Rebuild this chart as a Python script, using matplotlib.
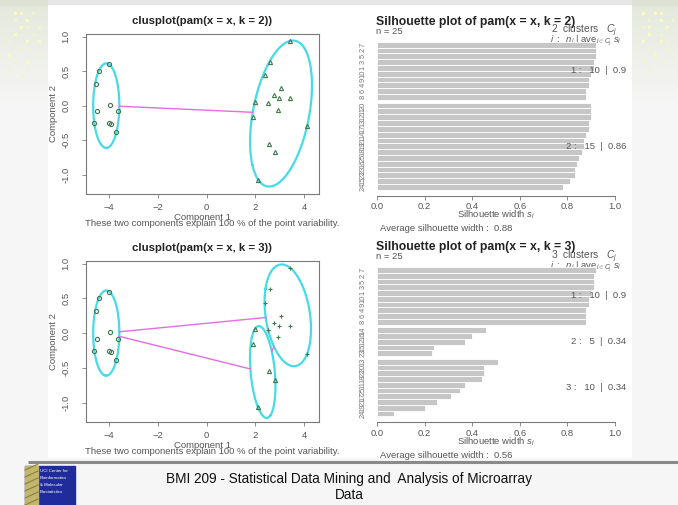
import numpy as np
import matplotlib.pyplot as plt
from matplotlib.patches import Rectangle

plt.rcParams['font.family'] = ['Liberation Sans', 'DejaVu Sans']
plt.rcParams['mathtext.fontset'] = 'custom'
plt.rcParams['mathtext.rm'] = 'Liberation Sans'
plt.rcParams['mathtext.it'] = 'Liberation Sans:italic'
plt.rcParams['mathtext.bf'] = 'Liberation Sans:bold'

W, H = 678, 505

# first two principal components of the 25 observations
pc1 = [-3.99, -4.42, -4.51, -3.97, -4.47, -3.61, -4.60, -3.99, -3.90, -3.69,
       3.43, 2.59, 2.38, 1.98, 1.92, 2.53, 2.76, 3.05, 2.97, 3.42,
       2.94, 4.12, 2.56, 2.82, 2.11]
pc2 = [0.60, 0.50, 0.32, 0.01, -0.08, -0.08, -0.25, -0.25, -0.27, -0.38,
       0.94, 0.64, 0.44, 0.06, -0.16, 0.04, 0.15, 0.25, 0.11, 0.11,
       -0.06, -0.30, -0.55, -0.67, -1.07]
clus_k2 = [1, 1, 1, 1, 1, 1, 1, 1, 1, 1,
           2, 2, 2, 2, 2, 2, 2, 2, 2, 2, 2, 2, 2, 2, 2]
clus_k3 = [1, 1, 1, 1, 1, 1, 1, 1, 1, 1,
           3, 3, 3, 2, 2, 3, 3, 3, 3, 3, 3, 3, 2, 2, 2]

# silhouette widths, sorted within cluster
sil_k2 = [0.92, 0.92, 0.92, 0.91, 0.91, 0.90, 0.89, 0.89, 0.88, 0.88,
          0.90, 0.90, 0.90, 0.89, 0.89, 0.88, 0.87, 0.87, 0.86, 0.85,
          0.84, 0.83, 0.83, 0.81, 0.78]
sil_k2_clus = [1] * 10 + [2] * 15
sil_k2_names = ['7', '2', '5', '3', '1', '10', '9', '4', '6', '8',
                '20', '11', '12', '13', '17', '14', '21', '19', '18', '25',
                '16', '23', '22', '15', '24']

sil_k3 = [0.92, 0.91, 0.91, 0.91, 0.90, 0.89, 0.89, 0.88, 0.88, 0.88,
          0.46, 0.40, 0.37, 0.24, 0.23,
          0.51, 0.45, 0.45, 0.44, 0.37, 0.35, 0.31, 0.25, 0.20, 0.07]
sil_k3_clus = [1] * 10 + [2] * 5 + [3] * 10
sil_k3_names = ['7', '2', '5', '3', '1', '10', '9', '4', '6', '8',
                '14', '16', '12', '15', '23',
                '13', '20', '22', '18', '11', '25', '17', '21', '19', '24']

footer = 'BMI 209 - Statistical Data Mining and  Analysis of Microarray'

ELL_COL = '#46dbe6'
SEG_COL = '#e26ee2'
PT_COL = '#3f7a4c'
TXT = '#555555'


def mvee(P, tol=1e-7):
    # Khachiyan's minimum volume enclosing ellipsoid
    n, d = P.shape
    Q = np.column_stack([P, np.ones(n)]).T
    u = np.full(n, 1.0 / n)
    for _ in range(50000):
        X = Q @ np.diag(u) @ Q.T
        M = np.einsum('ij,ji->i', Q.T @ np.linalg.inv(X), Q)
        j = np.argmax(M)
        step = (M[j] - d - 1) / ((d + 1) * (M[j] - 1))
        new_u = (1 - step) * u
        new_u[j] += step
        err = np.linalg.norm(new_u - u)
        u = new_u
        if err < tol:
            break
    c = P.T @ u
    A = np.linalg.inv(P.T @ np.diag(u) @ P - np.outer(c, c)) / d
    return c, A


fig = plt.figure(figsize=(W / 100, H / 100), dpi=100)

# slide background
img = np.full((H, W, 3), 0.965)
img[:6, :, :] = 0.90
rows = np.arange(H)[:, None]
fade = np.clip(1 - rows / 105.0, 0, 1) * 0.55
tint = np.array([0.84, 0.87, 0.77])
for x0, x1 in [(0, 48), (632, W)]:
    blk = img[:, x0:x1, :]
    img[:, x0:x1, :] = blk * (1 - fade[..., None]) + tint * fade[..., None]
dots_left = ["........",
             "..##.+..",
             "..+.#...",
             "...#+.+.",
             "..#..+..",
             ".+..#.#.",
             "..+.+...",
             ".#....+.",
             "..+.#...",
             ".+..+...",
             "...+....",
             "........"]
dots_right = [".......",
              ".#.##..",
              "..+.#.+",
              ".+#..#.",
              "..#.+..",
              ".#..#+.",
              "..+..+.",
              "...#...",
              ".+..+..",
              "..+....",
              "......."]
for pattern, x0 in [(dots_left, 0), (dots_right, 634)]:
    for r, line in enumerate(pattern):
        for c, ch in enumerate(line):
            if ch == '.':
                continue
            col = (0.98, 0.98, 0.78) if ch == '#' else (0.94, 0.95, 0.84)
            cy, cx = 6 + r * 7, x0 + 3 + c * 6
            img[cy - 1:cy + 2, cx - 1:cx + 2, :] = col
img[5:458, 48:632, :] = 1.0

bg = fig.add_axes([0, 0, 1, 1])
bg.imshow(img, extent=(0, W, H, 0), aspect='auto', interpolation='bilinear')
bg.set_xlim(0, W)
bg.set_ylim(H, 0)
bg.axis('off')

# footer
bg.plot([28, W], [462, 462], color='#8a8a8a', lw=2.2, solid_capstyle='butt')
bg.add_patch(Rectangle((25, 466), 50, 40, color='#1f2c9c'))
bg.add_patch(Rectangle((25, 466), 13, 40, color='#c2b66c'))
for k in range(6):
    bg.plot([25, 38], [470 + k * 7, 464 + k * 7], color='#8a8040', lw=0.8)
for i, s in enumerate(['UCI Center for', 'Bioinformatics', '& Molecular', 'Biostatistics']):
    bg.text(40, 471 + i * 7, s, color='white', fontsize=3.2, va='center')
bg.text(349, 479, footer, ha='center', va='center', fontsize=9.8, color='#111111')
bg.text(349, 495, 'Data', ha='center', va='center', fontsize=9.8, color='#111111')


def clusplot(top, bottom, clus, k):
    ax = fig.add_axes([86 / W, 1 - bottom / H, 233 / W, (bottom - top) / H])
    ax.set_facecolor('none')
    x, y, cl = np.array(pc1), np.array(pc2), np.array(clus)
    markers = {1: 'o', 2: '^', 3: '+'}
    ells = []
    t = np.linspace(0, 2 * np.pi, 240)
    for j in range(1, k + 1):
        P = np.column_stack([x[cl == j], y[cl == j]])
        c, A = mvee(P)
        ells.append((c, A))
        vals, vecs = np.linalg.eigh(A)
        pts = c[:, None] + vecs @ (np.diag(1 / np.sqrt(vals)) @ np.vstack([np.cos(t), np.sin(t)]))
        ax.plot(pts[0], pts[1], color=ELL_COL, lw=1.6)
        ax.plot(x[cl == j], y[cl == j], ls='none', marker=markers[j],
                mfc='none', mec=PT_COL, ms=3, mew=0.8)
    # segments between the borders of non-overlapping ellipses
    for i in range(k):
        for j in range(i + 1, k):
            ci, Ai = ells[i]
            cj, Aj = ells[j]
            d = cj - ci
            ti = 1 / np.sqrt(d @ Ai @ d)
            tj = 1 / np.sqrt(d @ Aj @ d)
            if ti + tj < 1:
                p0, p1 = ci + ti * d, cj - tj * d
                ax.plot([p0[0], p1[0]], [p0[1], p1[1]], color=SEG_COL, lw=1.0)
    ax.set_xlim(-4.94, 4.61)
    ax.set_ylim(-1.28, 1.04)
    ax.set_xticks([-4, -2, 0, 2, 4])
    ax.set_yticks([-1.0, -0.5, 0.0, 0.5, 1.0])
    ax.set_yticklabels(['-1.0', '-0.5', '0.0', '0.5', '1.0'], rotation=90, va='center')
    for sp in ax.spines.values():
        sp.set_color('#7a7a7a')
        sp.set_linewidth(0.8)
    ax.tick_params(length=3, width=0.6, color='#7a7a7a', labelsize=6.8, labelcolor=TXT)
    ax.tick_params(axis='x', pad=3.5)
    ax.tick_params(axis='y', pad=8)
    cx = 202.5
    bg.text(cx, top - 13, 'clusplot(pam(x = x, k = %d))' % k, ha='center', va='center',
            fontsize=8.2, fontweight='bold', color='#222222')
    bg.text(cx, bottom + 23, 'Component 1', ha='center', va='center', fontsize=6.8, color=TXT)
    bg.text(212, bottom + 30, 'These two components explain 100 % of the point variability.',
            ha='center', va='center', fontsize=6.8, color=TXT)
    bg.text(53, (top + bottom) / 2, 'Component 2', rotation=90, ha='center', va='center',
            fontsize=6.8, color=TXT)


def silplot(top, bottom, widths, clus, names, k):
    ax = fig.add_axes([367.5 / W, 1 - bottom / H, 257 / W, (bottom - top) / H])
    ax.set_facecolor('none')
    centers, pos = [], 0.0
    for i in range(len(widths)):
        if i > 0 and clus[i] != clus[i - 1]:
            pos += 0.5
        centers.append(pos + 0.5)
        pos += 1
    total = pos
    ax.barh(centers, widths, height=1, color='#c6c6c6', edgecolor='white', linewidth=0.6)
    ax.set_xlim(-0.04, 1.04)
    ax.set_ylim(total * 1.04, -total * 0.04)
    for s in ['top', 'right', 'left']:
        ax.spines[s].set_visible(False)
    ax.spines['bottom'].set_bounds(0, 1)
    ax.spines['bottom'].set_color('#7a7a7a')
    ax.spines['bottom'].set_linewidth(0.8)
    ax.set_yticks([])
    ax.set_xticks([0, 0.2, 0.4, 0.6, 0.8, 1.0])
    ax.set_xticklabels(['0.0', '0.2', '0.4', '0.6', '0.8', '1.0'])
    ax.tick_params(axis='x', length=3, width=0.6, color='#7a7a7a', labelsize=6.8,
                   labelcolor=TXT, pad=1.5)
    # observation names, drawn along the left edge
    trans = ax.get_yaxis_transform()
    for c, nm in zip(centers, names):
        ax.text(-0.004, c, nm, transform=trans, rotation=90, ha='right', va='center',
                fontsize=5.4, color='#777777', clip_on=False)
    # per-cluster summary
    w, cl = np.array(widths), np.array(clus)
    ce = np.array(centers)
    for j in range(1, k + 1):
        m = w[cl == j].mean()
        ax.text(1.046, ce[cl == j].mean(), '%d :   %d  |  %g' % (j, (cl == j).sum(), round(m, 2)),
                ha='right', va='center', fontsize=6.8, color=TXT, clip_on=False)
    bg.text(376, top - 14, 'Silhouette plot of pam(x = x, k = %d)' % k, ha='left', va='center',
            fontsize=8.8, fontweight='bold', color='#222222')
    bg.text(376, top - 4.5, 'n = %d' % len(widths), ha='left', va='center', fontsize=6.8, color=TXT)
    bg.text(617, top - 5, '%d  clusters   $C_j$' % k, ha='right', va='center', fontsize=7.4,
            color=TXT)
    bg.text(621, top + 5, r'$j\ :\ \ n_j\ |\ \mathrm{ave}_{i\in C_j}\ s_i$', ha='right',
            va='center', fontsize=6.8, color=TXT)
    bg.text(496, bottom + 19.5, r'Silhouette width $s_i$', ha='center', va='center',
            fontsize=6.8, color=TXT)
    bg.text(380, bottom + 33, 'Average silhouette width :  %g' % round(w.mean(), 2),
            ha='left', va='center', fontsize=6.8, color=TXT)


clusplot(34, 194, clus_k2, 2)
clusplot(261, 422, clus_k3, 3)
silplot(35.8, 195.7, sil_k2, sil_k2_clus, sil_k2_names, 2)
silplot(261.3, 422.3, sil_k3, sil_k3_clus, sil_k3_names, 3)

fig.savefig('out.png', dpi=100)
